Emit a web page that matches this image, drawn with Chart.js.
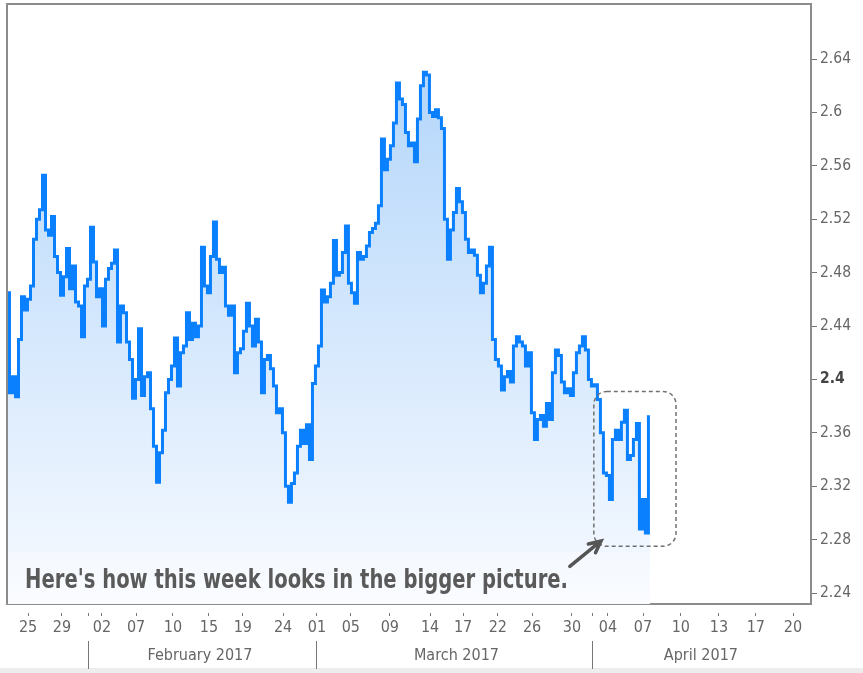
<!DOCTYPE html>
<html>
<head>
<meta charset="utf-8" />
<title>10-year yield</title>
<script src="https://cdn.jsdelivr.net/npm/chart.js"></script>
<style>
  body { margin: 0; background: #fff; }
  #wrap { width: 863px; height: 673px; background: linear-gradient(#fff 0, #fff 668px, #ededed 668px); }
</style>
</head>
<body>
<div id="wrap"><canvas id="yieldChart" width="863" height="673"></canvas></div>
<script>
// yield readings, one per sample step (trading-time axis)
const yieldValues = [
  2.465, 2.390, 2.402, 2.387, 2.430, 2.462, 2.452, 2.460, 2.470, 2.505,
  2.520, 2.527, 2.553, 2.512, 2.508, 2.522, 2.492, 2.480, 2.463, 2.477,
  2.498, 2.468, 2.485, 2.458, 2.455, 2.432, 2.470, 2.475, 2.514, 2.488,
  2.462, 2.468, 2.440, 2.475, 2.483, 2.487, 2.497, 2.428, 2.455, 2.450,
  2.428, 2.415, 2.386, 2.400, 2.438, 2.388, 2.402, 2.405, 2.378, 2.350,
  2.323, 2.345, 2.362, 2.390, 2.400, 2.410, 2.431, 2.395, 2.420, 2.425,
  2.450, 2.430, 2.442, 2.432, 2.440, 2.499, 2.470, 2.465, 2.492, 2.518,
  2.490, 2.480, 2.484, 2.455, 2.448, 2.455, 2.405, 2.420, 2.423, 2.436,
  2.457, 2.440, 2.425, 2.445, 2.428, 2.390, 2.415, 2.418, 2.408, 2.395,
  2.375, 2.378, 2.360, 2.320, 2.308, 2.322, 2.330, 2.350, 2.362, 2.352,
  2.366, 2.340, 2.397, 2.410, 2.425, 2.467, 2.458, 2.462, 2.472, 2.504,
  2.478, 2.480, 2.495, 2.515, 2.472, 2.465, 2.457, 2.495, 2.490, 2.492,
  2.500, 2.510, 2.513, 2.517, 2.530, 2.580, 2.557, 2.565, 2.575, 2.592,
  2.622, 2.610, 2.606, 2.585, 2.575, 2.577, 2.563, 2.595, 2.620, 2.630,
  2.628, 2.600, 2.597, 2.602, 2.596, 2.588, 2.520, 2.490, 2.512, 2.525,
  2.543, 2.533, 2.525, 2.505, 2.495, 2.497, 2.493, 2.478, 2.465, 2.472,
  2.485, 2.499, 2.430, 2.415, 2.410, 2.392, 2.402, 2.406, 2.398, 2.425,
  2.432, 2.428, 2.425, 2.410, 2.420, 2.375, 2.355, 2.370, 2.373, 2.365,
  2.382, 2.370, 2.405, 2.422, 2.418, 2.398, 2.390, 2.393, 2.388, 2.405,
  2.420, 2.425, 2.432, 2.422, 2.400, 2.395, 2.396, 2.385, 2.360, 2.330,
  2.328, 2.310, 2.355, 2.362, 2.355, 2.368, 2.377, 2.340, 2.343, 2.355,
  2.367, 2.288, 2.310, 2.285, 2.372
];

// day ticks (positions in sample steps), '' = month boundary mark
const dayTickPos = [6.7, 18, 26.7, 31.3, 42.7, 55, 67, 78.3, 91.7, 103, 114.3, 127.3,
  140.7, 151.7, 163.3, 174.7, 188, 195, 200, 211.7, 224.3, 237, 249.3, 261.7];
const dayTickLabels = ['25', '29', '', '02', '07', '10', '15', '19', '24', '01', '05', '09',
  '14', '17', '22', '26', '30', '', '04', '07', '10', '13', '17', '20'];

const monthSepPos = [26.7, 103, 195];
const monthLabelPos = [64, 149.5, 231];
const monthLabels = ['February 2017', 'March 2017', 'April 2017'];

const yTickValues = [2.24, 2.28, 2.32, 2.36, 2.4, 2.44, 2.48, 2.52, 2.56, 2.6, 2.64];
const yTickLabels = ['2.24', '2.28', '2.32', '2.36', '2.4', '2.44', '2.48', '2.52', '2.56', '2.6', '2.64'];

const noteText = "Here's how this week looks in the bigger picture.";

const FONT = "'DejaVu Sans Condensed', 'DejaVu Sans', sans-serif";
const X_MIN = -0.33, X_MAX = 267.7;

const annotations = {
  id: 'annotations',
  afterDatasetsDraw(chart) {
    const {ctx, scales: {x, y}} = chart;
    ctx.save();
    // pale backing behind the note
    ctx.fillStyle = 'rgba(255,255,255,0.3)';
    const bx0 = x.getPixelForValue(0), bx1 = x.getPixelForValue(214.7);
    const by0 = y.getPixelForValue(2.2707), by1 = y.getPixelForValue(2.2325);
    ctx.fillRect(bx0, by0, bx1 - bx0, by1 - by0);

    // note text, squeezed to the width it has in the picture
    ctx.font = 'bold 27px ' + FONT;
    ctx.fillStyle = '#5a5a5a';
    ctx.textBaseline = 'alphabetic';
    const tx0 = x.getPixelForValue(5.7), tx1 = x.getPixelForValue(186.7);
    const w = ctx.measureText(noteText).width;
    ctx.translate(tx0, y.getPixelForValue(2.2437));
    ctx.scale((tx1 - tx0) / w, 1);
    ctx.fillText(noteText, 0, 0);
    ctx.restore();

    // dashed box round this week
    ctx.save();
    const rx0 = x.getPixelForValue(195.3), rx1 = x.getPixelForValue(222.7);
    const ry0 = y.getPixelForValue(2.391), ry1 = y.getPixelForValue(2.275);
    ctx.strokeStyle = '#707070';
    ctx.lineWidth = 1.5;
    ctx.setLineDash([4, 3]);
    ctx.beginPath();
    ctx.roundRect(rx0, ry0, rx1 - rx0, ry1 - ry0, 13);
    ctx.stroke();

    // arrow
    ctx.setLineDash([]);
    const ax0 = x.getPixelForValue(187.3), ay0 = y.getPixelForValue(2.260);
    const ax1 = x.getPixelForValue(197.7), ay1 = y.getPixelForValue(2.279);
    const ang = Math.atan2(ay1 - ay0, ax1 - ax0);
    ctx.strokeStyle = '#555';
    ctx.lineWidth = 3.5;
    ctx.lineCap = 'round';
    ctx.beginPath();
    ctx.moveTo(ax0, ay0);
    ctx.lineTo(ax1, ay1);
    ctx.moveTo(ax1 - 13 * Math.cos(ang - 0.45), ay1 - 13 * Math.sin(ang - 0.45));
    ctx.lineTo(ax1, ay1);
    ctx.lineTo(ax1 - 13 * Math.cos(ang + 0.45), ay1 - 13 * Math.sin(ang + 0.45));
    ctx.stroke();
    ctx.restore();
  },
  afterDraw(chart) {
    const {ctx, chartArea: a} = chart;
    ctx.save();
    ctx.strokeStyle = '#8c8c8c';
    ctx.lineWidth = 2;
    ctx.beginPath();
    ctx.moveTo(a.left, a.bottom);
    ctx.lineTo(a.left, a.top);
    ctx.lineTo(a.right, a.top);
    ctx.stroke();
    ctx.restore();
  }
};

const isBold = c => !!(c && c.tick && Math.abs(c.tick.value - 2.4) < 1e-6);

new Chart(document.getElementById('yieldChart'), {
  type: 'line',
  data: {
    datasets: [{
      data: yieldValues.map((v, i) => ({x: i, y: v})),
      borderColor: 'rgb(10,128,255)',
      borderWidth: 3,
      pointRadius: 0,
      stepped: 'middle',
      fill: 'start',
      backgroundColor: (c) => {
        const a = c.chart.chartArea;
        if (!a) return 'rgba(200,225,250,0.5)';
        const g = c.chart.ctx.createLinearGradient(0, a.top, 0, a.bottom);
        g.addColorStop(0, 'rgb(172,210,250)');
        g.addColorStop(1, 'rgb(247,250,255)');
        return g;
      }
    }]
  },
  options: {
    responsive: false,
    animation: false,
    layout: { padding: { left: 7, top: 4, right: 0, bottom: 0 } },
    plugins: { legend: { display: false }, tooltip: { enabled: false } },
    scales: {
      x: {
        type: 'linear', position: 'bottom', min: X_MIN, max: X_MAX,
        afterBuildTicks: s => { s.ticks = dayTickPos.map(v => ({value: v})); },
        afterFit: s => { s.height = 37; s.paddingLeft = 0; s.paddingRight = 0; },
        border: { display: true, color: '#8c8c8c', width: 2 },
        grid: { drawOnChartArea: false, tickLength: 12, tickColor: '#777', tickWidth: 1, tickBorderDash: [0, 8, 4, 40] },
        ticks: {
          autoSkip: false, maxRotation: 0, padding: 2, color: '#666',
          font: { family: FONT, size: 16 },
          callback: (v, i) => dayTickLabels[i]
        }
      },
      x2: {
        type: 'linear', position: 'bottom', min: X_MIN, max: X_MAX,
        afterBuildTicks: s => {
          s.ticks = monthSepPos.map(v => ({value: v, name: ''}))
            .concat(monthLabelPos.map((v, i) => ({value: v, name: monthLabels[i]})));
        },
        afterFit: s => { s.height = 32; s.paddingLeft = 0; s.paddingRight = 0; },
        border: { display: false },
        grid: {
          drawOnChartArea: false, tickLength: 28, tickWidth: 1,
          tickColor: c => (c && c.tick && c.tick.name) ? 'rgba(0,0,0,0)' : '#777'
        },
        ticks: {
          autoSkip: false, maxRotation: 0, padding: -23, color: '#666',
          font: { family: FONT, size: 16 },
          callback: (v, i, t) => (t[i] && t[i].name) || ''
        }
      },
      y: {
        position: 'right', min: 2.2318, max: 2.6812,
        afterBuildTicks: s => { s.ticks = yTickValues.map(v => ({value: v})); },
        afterFit: s => { s.width = 52; s.paddingTop = 0; s.paddingBottom = 0; },
        border: { display: true, color: '#8c8c8c', width: 2 },
        grid: { drawOnChartArea: false, tickLength: 6, tickColor: '#777' },
        ticks: {
          padding: 3,
          color: c => isBold(c) ? '#444' : '#666',
          font: c => ({ family: FONT, size: 15.5, weight: isBold(c) ? 'bold' : 'normal' }),
          callback: (v, i) => yTickLabels[i]
        }
      }
    }
  },
  plugins: [annotations]
});
</script>
</body>
</html>
